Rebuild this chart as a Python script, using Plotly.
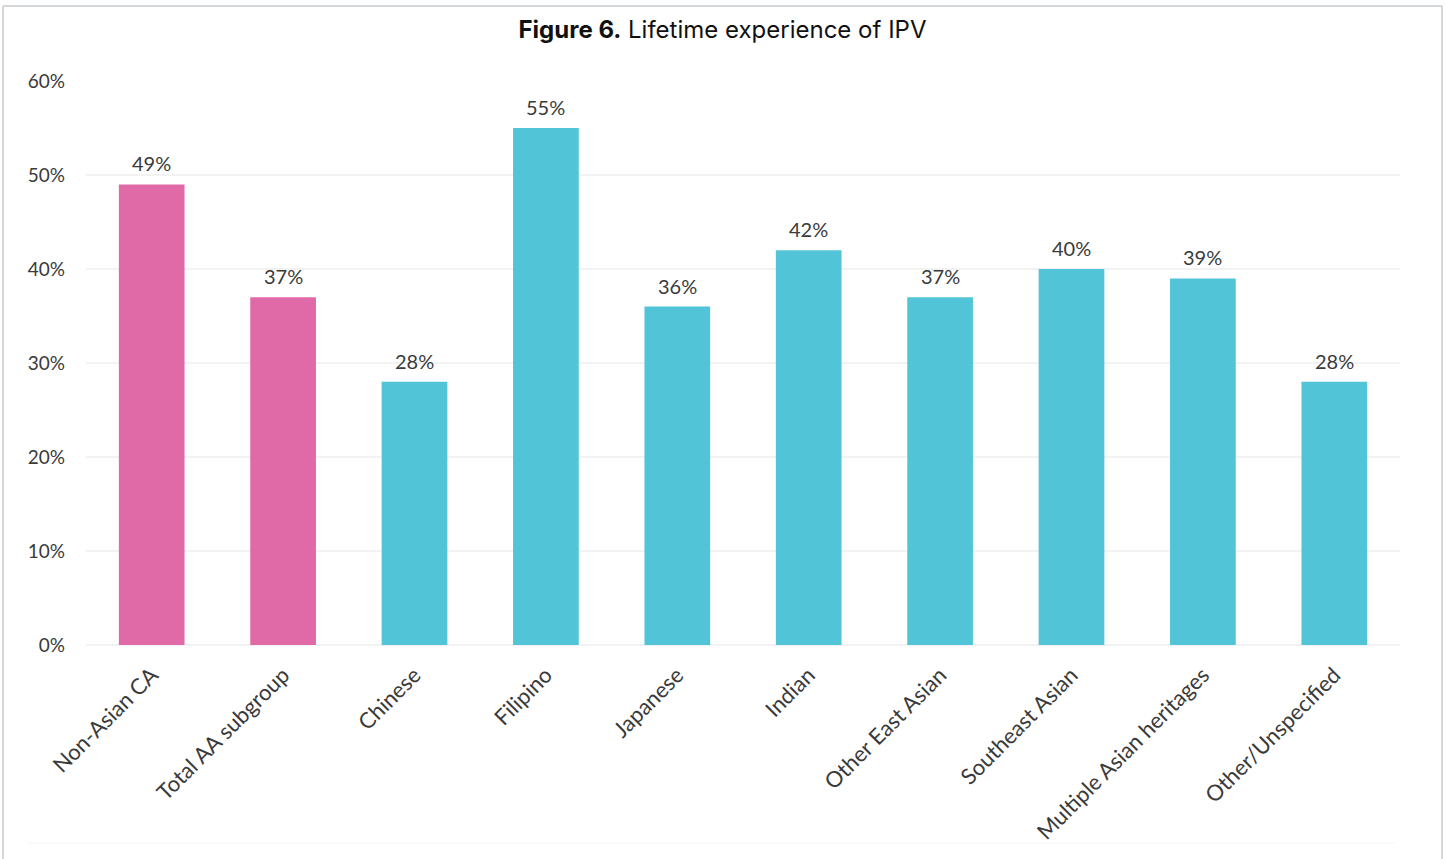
import plotly.graph_objects as go

categories = ["Non-Asian CA", "Total AA subgroup", "Chinese", "Filipino", "Japanese",
              "Indian", "Other East Asian", "Southeast Asian", "Multiple Asian heritages",
              "Other/Unspecified"]
values = [49, 37, 28, 55, 36, 42, 37, 40, 39, 28]
groups = ["comparison", "comparison", "subgroup", "subgroup", "subgroup",
          "subgroup", "subgroup", "subgroup", "subgroup", "subgroup"]
y_ticks = [0, 10, 20, 30, 40, 50, 60]
y_tick_labels = ["0%", "10%", "20%", "30%", "40%", "50%", "60%"]

palette = {"comparison": "#E06AA8", "subgroup": "#52C4D8"}
bar_colors = [palette[g] for g in groups]

W, H = 1445, 859
L, R, T, B = 86, 45, 81, 214
pw, ph = W - L - R, H - T - B

def px_x(x):
    return (x - L) / pw

def px_y(y):
    return (H - B - y) / ph

fig = go.Figure(go.Bar(
    x=categories, y=values,
    marker=dict(color=bar_colors, line=dict(width=0)),
    cliponaxis=False,
))

# value labels above each bar
for c, v in zip(categories, values):
    fig.add_annotation(x=c, y=v, text=f"{v}%", showarrow=False,
                       yanchor="bottom", yshift=7,
                       font=dict(family="Lato", size=20, color="#3A3A3A"))

border = dict(color="#C5CACC", width=1.5)
fig.add_shape(type="line", xref="paper", yref="paper",
              x0=px_x(3), x1=px_x(1442), y0=px_y(6), y1=px_y(6), line=border)
fig.add_shape(type="line", xref="paper", yref="paper",
              x0=px_x(3), x1=px_x(3), y0=px_y(6), y1=px_y(H + 5), line=border)
fig.add_shape(type="line", xref="paper", yref="paper",
              x0=px_x(1442), x1=px_x(1442), y0=px_y(6), y1=px_y(H + 5), line=border)
fig.add_shape(type="line", xref="paper", yref="paper",
              x0=px_x(28), x1=px_x(1395), y0=px_y(843), y1=px_y(843),
              line=dict(color="#F6F6F6", width=1))

fig.update_layout(
    width=W, height=H,
    margin=dict(l=L, r=R, t=T, b=B),
    paper_bgcolor="white", plot_bgcolor="white",
    bargap=0.5,
    showlegend=False,
    title=dict(text="<b>Figure 6.</b> Lifetime experience of IPV",
               x=0.5, xref="container", xanchor="center",
               y=1 - 30 / H, yanchor="middle",
               font=dict(family="Inter", size=24, color="#111111")),
    xaxis=dict(tickangle=-45, showgrid=False, showline=False, ticks="",
               ticklabelstandoff=12,
               tickfont=dict(family="Lato", size=22, color="#3A3A3A")),
    yaxis=dict(range=[0, 60], tickvals=y_ticks, ticktext=y_tick_labels,
               showgrid=True, gridcolor="#F2F2F2", gridwidth=1.5,
               zeroline=True, zerolinecolor="#F2F2F2", zerolinewidth=1.5,
               showline=False, ticks="", ticklabelstandoff=20,
               tickfont=dict(family="Lato", size=19, color="#3A3A3A")),
)

fig.write_html("out.html")
